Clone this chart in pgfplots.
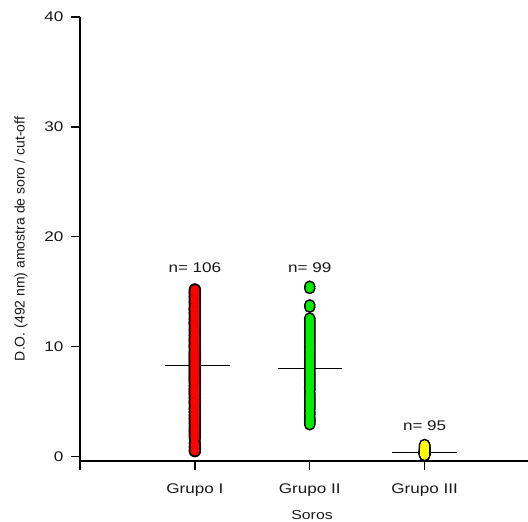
\documentclass[border=0pt]{standalone}
\usepackage{pgfplots}
\usepackage{pgfplotstable}
\pgfplotsset{compat=1.18}
\usepackage{fontspec}
\setmainfont{Liberation Sans}
\newfontfamily\wide[FakeStretch=1.22]{Liberation Sans}

\definecolor{grpred}{RGB}{255,0,0}
\definecolor{grpgreen}{RGB}{0,240,0}
\definecolor{grpyellow}{RGB}{255,255,0}

% grupo I
\pgfplotstableread[row sep=\\]{
    y\\
    0.5\\ 0.6\\ 0.9\\ 1.2\\ 1.7\\ 1.9\\ 2.1\\ 2.3\\ 2.4\\ 2.6\\
    2.8\\ 3.0\\ 3.2\\ 3.4\\ 3.5\\ 3.7\\ 3.8\\ 4.0\\ 4.1\\ 4.3\\
    4.4\\ 4.6\\ 4.8\\ 4.9\\ 5.0\\ 5.1\\ 5.3\\ 5.4\\ 5.6\\ 5.7\\
    5.8\\ 5.9\\ 6.0\\ 6.1\\ 6.2\\ 6.4\\ 6.5\\ 6.7\\ 6.8\\ 6.9\\
    7.0\\ 7.1\\ 7.2\\ 7.3\\ 7.4\\ 7.5\\ 7.6\\ 7.7\\ 7.8\\ 7.9\\
    8.0\\ 8.1\\ 8.2\\ 8.3\\ 8.4\\ 8.5\\ 8.6\\ 8.7\\ 8.8\\ 8.9\\
    9.0\\ 9.1\\ 9.2\\ 9.3\\ 9.4\\ 9.5\\ 9.6\\ 9.8\\ 9.9\\ 10.0\\
    10.1\\ 10.2\\ 10.4\\ 10.5\\ 10.6\\ 10.7\\ 10.8\\ 11.0\\ 11.1\\ 11.3\\
    11.5\\ 11.6\\ 11.8\\ 12.0\\ 12.1\\ 12.2\\ 12.3\\ 12.5\\ 12.6\\ 12.8\\
    13.0\\ 13.1\\ 13.3\\ 13.4\\ 13.5\\ 13.6\\ 13.8\\ 14.0\\ 14.1\\ 14.3\\
    14.5\\ 14.6\\ 14.8\\ 14.9\\ 15.0\\ 15.2\\
}\grupoI
% grupo II
\pgfplotstableread[row sep=\\]{
    y\\
    2.9\\ 3.0\\ 3.1\\ 3.2\\ 3.3\\ 3.4\\ 3.5\\ 3.6\\ 3.8\\ 3.9\\
    4.0\\ 4.1\\ 4.3\\ 4.4\\ 4.5\\ 4.6\\ 4.7\\ 4.8\\ 4.9\\ 5.0\\
    5.1\\ 5.2\\ 5.3\\ 5.4\\ 5.5\\ 5.6\\ 5.7\\ 5.8\\ 6.0\\ 6.1\\
    6.2\\ 6.3\\ 6.4\\ 6.5\\ 6.6\\ 6.7\\ 6.8\\ 6.9\\ 7.0\\ 7.1\\
    7.2\\ 7.3\\ 7.4\\ 7.5\\ 7.6\\ 7.7\\ 7.8\\ 7.9\\ 8.0\\ 8.1\\
    8.2\\ 8.3\\ 8.4\\ 8.5\\ 8.6\\ 8.7\\ 8.8\\ 8.9\\ 9.0\\ 9.1\\
    9.2\\ 9.3\\ 9.4\\ 9.5\\ 9.6\\ 9.7\\ 9.8\\ 9.9\\ 10.0\\ 10.1\\
    10.2\\ 10.3\\ 10.4\\ 10.5\\ 10.6\\ 10.7\\ 10.8\\ 10.9\\ 11.0\\ 11.1\\
    11.2\\ 11.3\\ 11.4\\ 11.5\\ 11.6\\ 11.7\\ 11.8\\ 11.9\\ 12.0\\ 12.1\\
    12.2\\ 12.3\\ 12.4\\ 12.5\\ 12.6\\ 13.6\\ 13.8\\ 15.3\\ 15.5\\
}\grupoII
% grupo III
\pgfplotstableread[row sep=\\]{
    y\\
    0.10\\ 0.12\\ 0.13\\ 0.14\\ 0.15\\ 0.16\\ 0.17\\ 0.18\\ 0.19\\ 0.20\\
    0.21\\ 0.22\\ 0.22\\ 0.23\\ 0.24\\ 0.25\\ 0.25\\ 0.26\\ 0.27\\ 0.27\\
    0.28\\ 0.28\\ 0.29\\ 0.29\\ 0.30\\ 0.30\\ 0.31\\ 0.31\\ 0.32\\ 0.32\\
    0.33\\ 0.33\\ 0.34\\ 0.34\\ 0.35\\ 0.35\\ 0.35\\ 0.36\\ 0.36\\ 0.37\\
    0.37\\ 0.38\\ 0.38\\ 0.39\\ 0.39\\ 0.40\\ 0.40\\ 0.40\\ 0.41\\ 0.41\\
    0.42\\ 0.42\\ 0.43\\ 0.43\\ 0.44\\ 0.44\\ 0.45\\ 0.45\\ 0.46\\ 0.46\\
    0.47\\ 0.47\\ 0.48\\ 0.49\\ 0.50\\ 0.51\\ 0.52\\ 0.53\\ 0.54\\ 0.55\\
    0.56\\ 0.57\\ 0.58\\ 0.59\\ 0.60\\ 0.62\\ 0.63\\ 0.65\\ 0.66\\ 0.68\\
    0.70\\ 0.72\\ 0.74\\ 0.76\\ 0.78\\ 0.80\\ 0.82\\ 0.85\\ 0.88\\ 0.90\\
    0.93\\ 0.96\\ 1.00\\ 1.05\\ 1.10\\
}\grupoIII

\begin{document}
\begin{tikzpicture}
\begin{axis}[
    name=ax,
    scale only axis,
    width=448bp,
    height=444bp,
    xmin=0, xmax=3.9,
    ymin=-0.4, ymax=40,
    axis x line*=bottom,
    axis y line*=left,
    axis line style={line width=1.4bp},
    xtick={1,2,3},
    xticklabels={Grupo I, Grupo II, Grupo III},
    ytick={0,10,20,30,40},
    tick align=outside,
    major tick length=9bp,
    tick style={line width=1.3bp, black},
    /pgf/number format/assume math mode=true,
    ticklabel style={font=\wide\fontsize{14bp}{16bp}\selectfont, text=black!90},
    xticklabel style={yshift=-10bp},
    yticklabel style={xshift=-4bp},
    xlabel={Soros},
    xlabel style={font=\wide\fontsize{13bp}{15bp}\selectfont, text=black!90,
        at={(axis description cs:0.518,0)}, anchor=center, yshift=-54bp},
    ylabel={D.O. (492 nm) amostra de soro / cut-off},
    ylabel style={font=\fontsize{14bp}{16bp}\selectfont, text=black!90, yshift=10bp},
    clip=false,
]
% contorno preto, depois o preenchimento
\addplot[only marks, mark=*, mark size=6pt, mark options={fill=black, draw=black}]
    table[x expr=1, y=y] {\grupoI};
\addplot[only marks, mark=*, mark size=4.2pt, mark options={fill=grpred, draw=grpred}]
    table[x expr=1, y=y] {\grupoI};
\addplot[only marks, mark=*, mark size=5.6pt, mark options={fill=black, draw=black}]
    table[x expr=2, y=y] {\grupoII};
\addplot[only marks, mark=*, mark size=3.9pt, mark options={fill=grpgreen, draw=grpgreen}]
    table[x expr=2, y=y] {\grupoII};
\addplot[only marks, mark=*, mark size=5.6pt, mark options={fill=black, draw=black}]
    table[x expr=3, y=y] {\grupoIII};
\addplot[only marks, mark=*, mark size=3.9pt, mark options={fill=grpyellow, draw=grpyellow}]
    table[x expr=3, y=y] {\grupoIII};
% medias
\addplot[black, line width=1.4bp] coordinates {(0.74,8.3) (1.31,8.3)};
\addplot[black, line width=1.4bp] coordinates {(1.72,8.0) (2.28,8.0)};
\addplot[black, line width=1.4bp] coordinates {(2.72,0.4) (3.28,0.4)};
% prolongamento do eixo y
\draw[line width=1.4bp] (axis cs:0,-0.4) -- (axis cs:0,-1.25);
\node[font=\wide\fontsize{14bp}{16bp}\selectfont, text=black!90] at (axis cs:1,17.2) {n= 106};
\node[font=\wide\fontsize{14bp}{16bp}\selectfont, text=black!90] at (axis cs:2,17.2) {n= 99};
\node[font=\wide\fontsize{14bp}{16bp}\selectfont, text=black!90] at (axis cs:3,2.8) {n= 95};
\end{axis}
\pgfresetboundingbox
\path (ax.south west) ++(-80bp,-61bp) rectangle ++(528bp,522bp);
\end{tikzpicture}
\end{document}
